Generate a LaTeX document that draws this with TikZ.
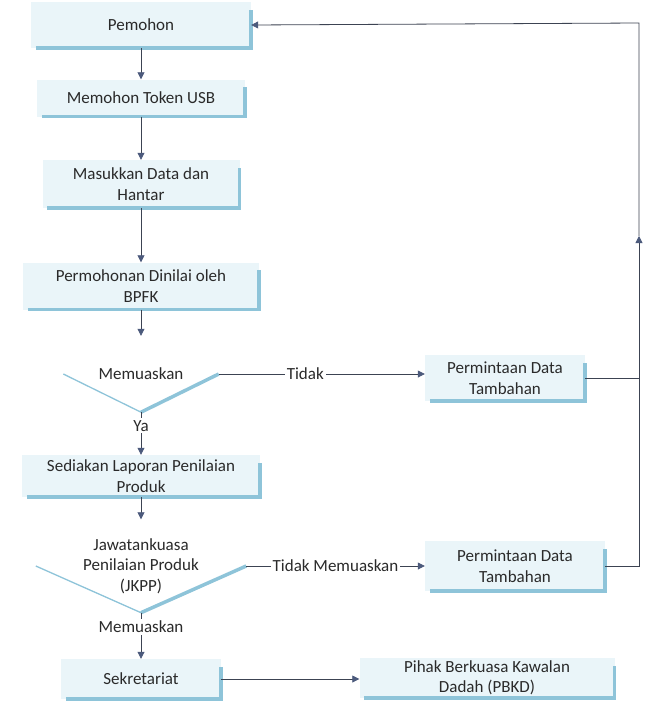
\documentclass[tikz,border=0pt]{standalone}
\usepackage{fontspec}
\setmainfont{Carlito}
\usetikzlibrary{arrows.meta}
\definecolor{boxfill}{HTML}{EAF5F9}
\definecolor{accent}{HTML}{8EC4D9}
\definecolor{lin}{HTML}{3C4352}
\definecolor{tipc}{HTML}{4C5A7C}
\definecolor{txt}{HTML}{2A2A2A}
\begin{document}
\begin{tikzpicture}[x=1pt,y=-1pt,
  every node/.style={font=\fontsize{17}{20.5}\selectfont, text=txt, align=center, inner sep=0pt},
  box/.style n args={2}{fill=boxfill, minimum width=#1, minimum height=#2},
  dia/.style n args={2}{minimum width=#1, minimum height=#2},
  accentline/.style={draw=accent, line width=3.5pt},
  thinaccent/.style={draw=accent, line width=1.3pt},
  conn/.style={draw=lin, line width=0.8pt},
  arr/.style={conn, -{Triangle[length=7pt,width=7pt,fill=tipc,color=tipc]}},
  lab/.style={fill=white, inner sep=2pt}
]
\fill[white] (0,0) rectangle (647,702);
\useasboundingbox (0,0) rectangle (647,702);

% nodes
\node[box={220}{46}] (pem) at (141,25) {Pemohon};
\node[box={208}{37}] (tok) at (141,98) {Memohon Token USB};
\node[box={197}{48}] (mas) at (141,184) {Masukkan Data dan\\Hantar};
\node[box={236}{47}] (per) at (141,286) {Permohonan Dinilai oleh\\BPFK};
\node[dia={155}{76}] (d1) at (141,374) {Memuaskan};
\node[box={160}{46}] (req1) at (505,378) {Permintaan Data\\Tambahan};
\node[box={238}{42}] (sed) at (141,476) {Sediakan Laporan Penilaian\\Produk};
\node[dia={210}{93}] (d2) at (141,566) {Jawatankuasa\\Penilaian Produk\\(JKPP)};
\node[box={180}{50}] (req2) at (515,566) {Permintaan Data\\Tambahan};
\node[box={160}{40}] (sek) at (141,679) {Sekretariat};
\node[box={255}{40}] (pbkd) at (487,678) {Pihak Berkuasa Kawalan\\Dadah (PBKD)};

% accents on boxes
\foreach \n in {pem,tok,mas,per,req1,sed,req2,sek,pbkd}{
  \draw[accentline] ([xshift=5pt]\n.south west) -- (\n.south east) -- ([yshift=-8pt]\n.north east);
}
% diamonds
\foreach \n in {d1,d2}{
  \draw[thinaccent] (\n.west) -- (\n.south);
  \draw[accentline] (\n.south) -- (\n.east);
}

% coordinates for the return loop
\coordinate (rt) at (639,23);
\coordinate (vmid) at (639,236);

% connectors
\draw[arr] (pem.south) -- (tok.north);
\draw[arr] (tok.south) -- (mas.north);
\draw[arr] (mas.south) -- (per.north);
\draw[arr] (per.south) -- (d1.north);
\draw[arr] (d1.east) -- node[lab, pos=0.42] {Tidak} (req1.west |- d1.east);
\draw[arr] (d1.south) -- node[lab, pos=0.32] {Ya} (sed.north);
\draw[arr] (sed.south) -- (d2.north);
\draw[arr] (d2.east) -- node[lab, pos=0.5] {Tidak Memuaskan} (req2.west |- d2.east);
\draw[arr] (d2.south) -- node[lab, pos=0.3] {Memuaskan} (sek.north);
\draw[arr] (sek.east) -- (pbkd.west |- sek.east);

\draw[conn] (req1.east) -- (req1.east -| rt);
\draw[arr] (req2.east) -- (req2.east -| rt) -- (vmid);
\draw[arr] (vmid) -- (rt) -- (pem.east);
\end{tikzpicture}
\end{document}
